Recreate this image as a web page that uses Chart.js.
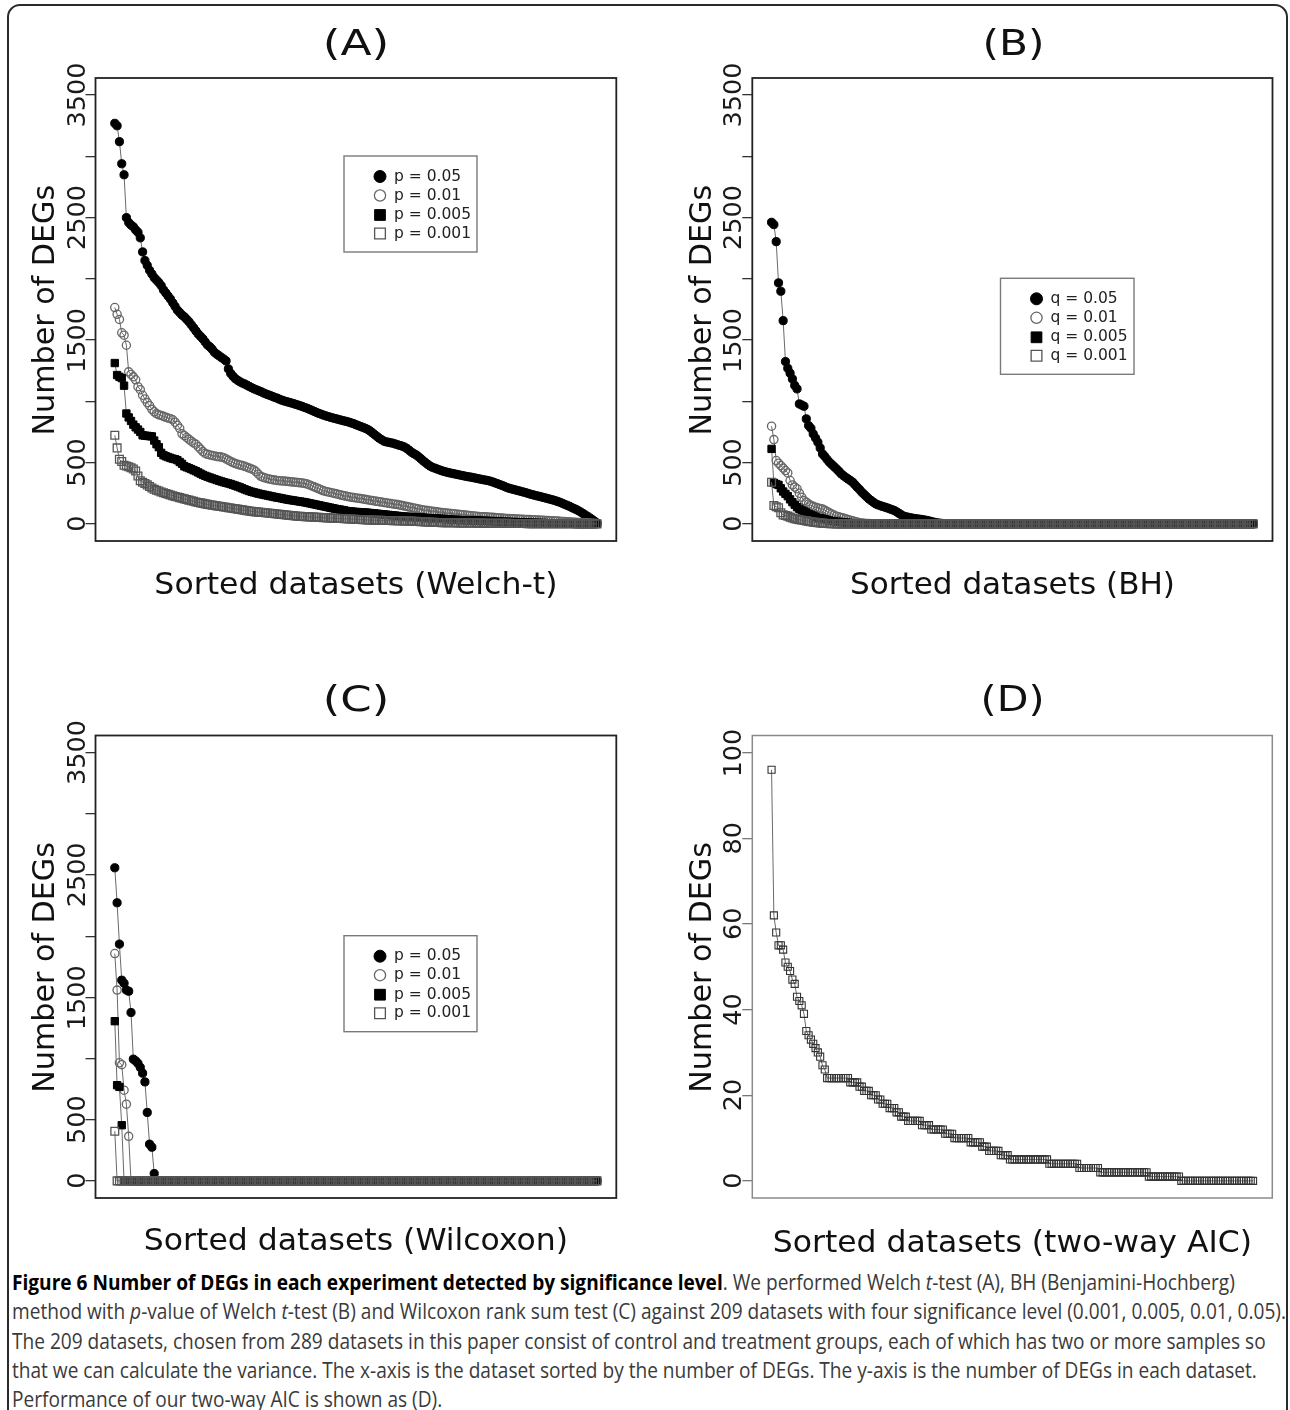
<!DOCTYPE html>
<html>
<head>
<meta charset="utf-8">
<script src="https://cdn.jsdelivr.net/npm/chart.js@4.4.1/dist/chart.umd.min.js"></script>
<style>
html,body{margin:0;padding:0;background:#fff;}
body{width:1290px;height:1410px;position:relative;overflow:hidden;}
.frame{position:absolute;left:7px;top:4px;width:1281px;height:1460px;border:2px solid #2a2a2a;border-radius:13px;box-sizing:border-box;}
canvas{position:absolute;display:block;}
#caption{position:absolute;left:12px;top:1268px;font-family:"Open Sans",sans-serif;font-size:21px;color:#3a3a3a;}
#caption .cl{height:29.3px;line-height:29.3px;white-space:nowrap;}
#caption .cl span{display:inline-block;transform-origin:0 50%;}
#caption b{color:#000;font-weight:700;}
</style>
</head>
<body>
<div class="frame"></div>
<canvas id="cA"></canvas>
<canvas id="cB"></canvas>
<canvas id="cC"></canvas>
<canvas id="cD"></canvas>
<div id="caption">
<div class="cl"><span><b>Figure 6 Number of DEGs in each experiment detected by significance level</b>. We performed Welch <i>t</i>-test (A), BH (Benjamini-Hochberg)</span></div>
<div class="cl"><span>method with <i>p</i>-value of Welch <i>t</i>-test (B) and Wilcoxon rank sum test (C) against 209 datasets with four significance level (0.001, 0.005, 0.01, 0.05).</span></div>
<div class="cl"><span>The 209 datasets, chosen from 289 datasets in this paper consist of control and treatment groups, each of which has two or more samples so</span></div>
<div class="cl"><span>that we can calculate the variance. The x-axis is the dataset sorted by the number of DEGs. The y-axis is the number of DEGs in each dataset.</span></div>
<div class="cl"><span>Performance of our two-way AIC is shown as (D).</span></div>
</div>
<script>
// ---------------- DATA ----------------
const N_DATASETS = 209;
const datasetRank = Array.from({length: N_DATASETS}, (_, k) => k + 1);

const yTicksDEG = [0, 500, 1000, 1500, 2000, 2500, 3000, 3500];
const yTickLabelsDEG = ['0', '500', '', '1500', '', '2500', '', '3500'];
const yTicksAIC = [0, 20, 40, 60, 80, 100];
const yTickLabelsAIC = ['0', '20', '40', '60', '80', '100'];

const legendP = ['p = 0.05', 'p = 0.01', 'p = 0.005', 'p = 0.001'];
const legendQ = ['q = 0.05', 'q = 0.01', 'q = 0.005', 'q = 0.001'];
const panelTitles = ['(A)', '(B)', '(C)', '(D)'];
const xTitles = ['Sorted datasets (Welch-t)', 'Sorted datasets (BH)', 'Sorted datasets (Wilcoxon)', 'Sorted datasets (two-way AIC)'];
const yTitle = 'Number of DEGs';

// (A) Welch t-test
const welchP05 = [
3270,3250,3120,2940,2850,2500,2460,2440,2425,2400,
2380,2335,2220,2150,2110,2070,2040,2010,1990,1970,
1945,1910,1885,1860,1835,1805,1775,1745,1725,1705,
1690,1670,1650,1625,1600,1575,1550,1530,1510,1485,
1460,1445,1425,1400,1385,1372,1358,1345,1330,1265,
1228,1205,1185,1172,1160,1150,1142,1132,1122,1112,
1103,1095,1087,1080,1070,1062,1055,1048,1040,1033,
1026,1018,1010,1004,998,993,988,982,976,970,
964,957,950,943,935,927,918,910,902,895,
888,882,876,870,865,860,855,850,845,840,
836,830,824,818,810,802,795,788,780,772,
760,745,730,715,700,688,676,670,666,662,
658,652,646,640,634,627,615,600,585,573,
563,548,532,515,500,485,472,462,455,448,
441,434,428,423,418,414,410,406,402,398,
394,390,386,383,380,376,372,368,364,360,
357,353,348,342,335,328,321,314,306,298,
291,286,281,276,271,266,261,256,250,244,
239,234,229,225,220,215,210,205,200,195,
189,183,176,168,160,152,144,135,126,117,
107,96,84,72,60,47,34,20,6];
const welchP01 = [
1766,1711,1669,1560,1540,1458,1241,1220,1200,1176,
1120,1095,1050,1020,990,965,935,915,900,890,
885,878,870,864,859,850,830,805,780,735,
720,705,690,675,660,650,630,610,590,575,
568,562,558,554,550,547,545,540,530,520,
510,500,492,486,480,476,470,463,455,448,
440,425,405,388,380,374,369,365,361,357,
354,352,350,349,347,345,343,341,339,337,
335,333,330,325,318,310,302,294,286,278,
270,265,260,256,252,247,243,238,233,229,
225,221,218,215,212,209,206,203,200,196,
193,190,187,184,181,178,175,172,169,166,
163,160,157,153,149,145,141,137,133,129,
126,122,118,114,111,108,105,103,100,98,
95,93,90,88,86,84,82,80,78,76,
74,72,70,68,66,64,63,61,59,58,
57,56,54,53,51,50,48,47,45,44,
43,42,41,40,39,38,37,36,36,35,
34,33,32,31,30,29,28,27,26,25,
24,23,21,20,19,18,17,16,14,13,
12,11,10,9,8,6,5,4,3];
const welchP005 = [
1313,1215,1200,1190,1128,901,869,840,810,788,
770,750,723,720,718,716,714,680,650,626,
580,561,552,545,538,532,528,520,505,490,
470,462,455,447,438,430,420,410,400,392,
385,378,371,365,358,352,346,340,335,330,
325,318,312,305,298,290,282,275,268,262,
257,252,247,243,239,235,231,227,223,219,
215,212,208,204,200,197,194,191,188,185,
182,179,176,172,168,164,160,156,152,148,
144,140,136,132,128,124,120,117,113,110,
105,103,101,99,97,96,94,93,92,91,
89,87,85,83,81,79,77,75,73,71,
69,67,65,63,61,59,58,57,56,55,
53,52,51,50,48,47,46,45,44,43,
42,41,40,38,36,35,34,33,32,31,
30,30,29,29,28,28,27,26,25,25,
24,24,23,22,21,20,19,19,18,17,
16,15,15,14,13,12,12,11,10,10,
9,9,8,8,7,7,6,6,5,5,
5,4,4,4,3,3,3,3,2,2,
2,2,2,1,1,1,1,0,0];
const welchP001 = [
723,620,528,509,478,472,466,458,448,431,
390,352,340,330,318,305,292,283,275,268,
260,254,248,242,236,230,224,219,214,209,
204,199,194,189,184,179,175,171,167,163,
159,156,153,150,147,144,141,138,135,132,
129,126,123,120,117,114,111,108,105,102,
100,98,96,94,92,90,88,86,84,82,
80,78,76,74,72,70,68,66,64,62,
61,60,59,58,57,56,55,54,53,52,
51,50,49,48,47,46,45,44,43,42,
41,40,39,38,37,36,35,34,33,32,
31,31,30,30,29,29,28,28,27,27,
26,26,25,25,24,24,23,23,22,21,
20,19,18,17,16,15,14,13,12,11,
11,10,10,10,10,9,9,9,8,8,
8,8,7,7,7,7,6,6,6,6,
5,5,5,5,5,4,4,4,4,4,
4,3,3,3,3,3,3,3,2,2,
2,2,2,2,2,2,2,1,1,1,
1,1,1,1,1,1,1,1,1,0,
0,0,0,0,0,0,0,0,0];

// (B) Benjamini-Hochberg
const bhQ05 = [
2462,2443,2304,1967,1899,1659,1325,1270,1230,1183,
1130,1102,979,970,960,857,802,780,734,700,
666,620,571,550,525,503,485,467,449,430,
410,394,380,367,354,340,320,299,280,258,
240,222,204,190,176,163,155,148,142,136,
130,123,116,109,98,86,74,63,58,54,
50,46,43,40,38,35,32,28,24,19,
14,10,7,5,3,2,1,1,0,0,
0,0,0,0,0,0,0,0,0,0,
0,0,0,0,0,0,0,0,0,0,
0,0,0,0,0,0,0,0,0,0,
0,0,0,0,0,0,0,0,0,0,
0,0,0,0,0,0,0,0,0,0,
0,0,0,0,0,0,0,0,0,0,
0,0,0,0,0,0,0,0,0,0,
0,0,0,0,0,0,0,0,0,0,
0,0,0,0,0,0,0,0,0,0,
0,0,0,0,0,0,0,0,0,0,
0,0,0,0,0,0,0,0,0,0,
0,0,0,0,0,0,0,0,0,0,
0,0,0,0,0,0,0,0,0];
const bhQ01 = [
797,688,517,495,476,455,435,416,354,318,
300,286,250,218,190,177,163,150,143,136,
130,126,122,112,101,90,80,72,63,58,
52,47,41,36,30,25,19,15,10,7,
5,3,2,1,1,0,0,0,0,0,
0,0,0,0,0,0,0,0,0,0,
0,0,0,0,0,0,0,0,0,0,
0,0,0,0,0,0,0,0,0,0,
0,0,0,0,0,0,0,0,0,0,
0,0,0,0,0,0,0,0,0,0,
0,0,0,0,0,0,0,0,0,0,
0,0,0,0,0,0,0,0,0,0,
0,0,0,0,0,0,0,0,0,0,
0,0,0,0,0,0,0,0,0,0,
0,0,0,0,0,0,0,0,0,0,
0,0,0,0,0,0,0,0,0,0,
0,0,0,0,0,0,0,0,0,0,
0,0,0,0,0,0,0,0,0,0,
0,0,0,0,0,0,0,0,0,0,
0,0,0,0,0,0,0,0,0,0,
0,0,0,0,0,0,0,0,0];
const bhQ005 = [
612,335,325,318,290,264,245,226,200,177,
156,136,122,110,101,92,80,73,66,58,
50,46,42,38,33,27,24,21,18,16,
14,13,11,9,7,5,4,3,2,2,
1,1,1,0,0,0,0,0,0,0,
0,0,0,0,0,0,0,0,0,0,
0,0,0,0,0,0,0,0,0,0,
0,0,0,0,0,0,0,0,0,0,
0,0,0,0,0,0,0,0,0,0,
0,0,0,0,0,0,0,0,0,0,
0,0,0,0,0,0,0,0,0,0,
0,0,0,0,0,0,0,0,0,0,
0,0,0,0,0,0,0,0,0,0,
0,0,0,0,0,0,0,0,0,0,
0,0,0,0,0,0,0,0,0,0,
0,0,0,0,0,0,0,0,0,0,
0,0,0,0,0,0,0,0,0,0,
0,0,0,0,0,0,0,0,0,0,
0,0,0,0,0,0,0,0,0,0,
0,0,0,0,0,0,0,0,0,0,
0,0,0,0,0,0,0,0,0];
const bhQ001 = [
340,150,140,131,90,73,68,63,55,48,
41,38,34,31,27,24,20,17,14,12,
10,8,6,4,3,2,1,1,0,0,
0,0,0,0,0,0,0,0,0,0,
0,0,0,0,0,0,0,0,0,0,
0,0,0,0,0,0,0,0,0,0,
0,0,0,0,0,0,0,0,0,0,
0,0,0,0,0,0,0,0,0,0,
0,0,0,0,0,0,0,0,0,0,
0,0,0,0,0,0,0,0,0,0,
0,0,0,0,0,0,0,0,0,0,
0,0,0,0,0,0,0,0,0,0,
0,0,0,0,0,0,0,0,0,0,
0,0,0,0,0,0,0,0,0,0,
0,0,0,0,0,0,0,0,0,0,
0,0,0,0,0,0,0,0,0,0,
0,0,0,0,0,0,0,0,0,0,
0,0,0,0,0,0,0,0,0,0,
0,0,0,0,0,0,0,0,0,0,
0,0,0,0,0,0,0,0,0,0,
0,0,0,0,0,0,0,0,0];

// (C) Wilcoxon rank sum test
const wilcoxP05 = [
2559,2273,1935,1640,1615,1560,1550,1376,995,980,
960,927,880,809,559,300,275,60,0,0,
0,0,0,0,0,0,0,0,0,0,
0,0,0,0,0,0,0,0,0,0,
0,0,0,0,0,0,0,0,0,0,
0,0,0,0,0,0,0,0,0,0,
0,0,0,0,0,0,0,0,0,0,
0,0,0,0,0,0,0,0,0,0,
0,0,0,0,0,0,0,0,0,0,
0,0,0,0,0,0,0,0,0,0,
0,0,0,0,0,0,0,0,0,0,
0,0,0,0,0,0,0,0,0,0,
0,0,0,0,0,0,0,0,0,0,
0,0,0,0,0,0,0,0,0,0,
0,0,0,0,0,0,0,0,0,0,
0,0,0,0,0,0,0,0,0,0,
0,0,0,0,0,0,0,0,0,0,
0,0,0,0,0,0,0,0,0,0,
0,0,0,0,0,0,0,0,0,0,
0,0,0,0,0,0,0,0,0,0,
0,0,0,0,0,0,0,0,0];
const wilcoxP01 = [
1858,1559,965,950,741,627,364,0,0,0,
0,0,0,0,0,0,0,0,0,0,
0,0,0,0,0,0,0,0,0,0,
0,0,0,0,0,0,0,0,0,0,
0,0,0,0,0,0,0,0,0,0,
0,0,0,0,0,0,0,0,0,0,
0,0,0,0,0,0,0,0,0,0,
0,0,0,0,0,0,0,0,0,0,
0,0,0,0,0,0,0,0,0,0,
0,0,0,0,0,0,0,0,0,0,
0,0,0,0,0,0,0,0,0,0,
0,0,0,0,0,0,0,0,0,0,
0,0,0,0,0,0,0,0,0,0,
0,0,0,0,0,0,0,0,0,0,
0,0,0,0,0,0,0,0,0,0,
0,0,0,0,0,0,0,0,0,0,
0,0,0,0,0,0,0,0,0,0,
0,0,0,0,0,0,0,0,0,0,
0,0,0,0,0,0,0,0,0,0,
0,0,0,0,0,0,0,0,0,0,
0,0,0,0,0,0,0,0,0];
const wilcoxP005 = [
1305,782,768,455,0,0,0,0,0,0,
0,0,0,0,0,0,0,0,0,0,
0,0,0,0,0,0,0,0,0,0,
0,0,0,0,0,0,0,0,0,0,
0,0,0,0,0,0,0,0,0,0,
0,0,0,0,0,0,0,0,0,0,
0,0,0,0,0,0,0,0,0,0,
0,0,0,0,0,0,0,0,0,0,
0,0,0,0,0,0,0,0,0,0,
0,0,0,0,0,0,0,0,0,0,
0,0,0,0,0,0,0,0,0,0,
0,0,0,0,0,0,0,0,0,0,
0,0,0,0,0,0,0,0,0,0,
0,0,0,0,0,0,0,0,0,0,
0,0,0,0,0,0,0,0,0,0,
0,0,0,0,0,0,0,0,0,0,
0,0,0,0,0,0,0,0,0,0,
0,0,0,0,0,0,0,0,0,0,
0,0,0,0,0,0,0,0,0,0,
0,0,0,0,0,0,0,0,0,0,
0,0,0,0,0,0,0,0,0];
const wilcoxP001 = [
406,0,0,0,0,0,0,0,0,0,
0,0,0,0,0,0,0,0,0,0,
0,0,0,0,0,0,0,0,0,0,
0,0,0,0,0,0,0,0,0,0,
0,0,0,0,0,0,0,0,0,0,
0,0,0,0,0,0,0,0,0,0,
0,0,0,0,0,0,0,0,0,0,
0,0,0,0,0,0,0,0,0,0,
0,0,0,0,0,0,0,0,0,0,
0,0,0,0,0,0,0,0,0,0,
0,0,0,0,0,0,0,0,0,0,
0,0,0,0,0,0,0,0,0,0,
0,0,0,0,0,0,0,0,0,0,
0,0,0,0,0,0,0,0,0,0,
0,0,0,0,0,0,0,0,0,0,
0,0,0,0,0,0,0,0,0,0,
0,0,0,0,0,0,0,0,0,0,
0,0,0,0,0,0,0,0,0,0,
0,0,0,0,0,0,0,0,0,0,
0,0,0,0,0,0,0,0,0,0,
0,0,0,0,0,0,0,0,0];

// (D) two-way AIC
const aicTwoWay = [
96,62,58,55,55,54,51,50,49,47,
46,43,42,41,39,35,34,33,32,31,
30,29,27,26,24,24,24,24,24,24,
24,24,24,24,23,23,23,23,22,22,
21,21,21,20,20,20,19,19,18,18,
18,17,17,17,16,16,15,15,15,14,
14,14,14,14,14,13,13,13,13,12,
12,12,12,12,12,11,11,11,11,10,
10,10,10,10,10,10,9,9,9,9,
9,8,8,8,7,7,7,7,7,6,
6,6,6,5,5,5,5,5,5,5,
5,5,5,5,5,5,5,5,5,5,
4,4,4,4,4,4,4,4,4,4,
4,4,4,3,3,3,3,3,3,3,
3,3,2,2,2,2,2,2,2,2,
2,2,2,2,2,2,2,2,2,2,
2,2,2,1,1,1,1,1,1,1,
1,1,1,1,1,1,1,0,0,0,
0,0,0,0,0,0,0,0,0,0,
0,0,0,0,0,0,0,0,0,0,
0,0,0,0,0,0,0,0,0];

// ---------------- STYLE / LAYOUT ----------------
const FONT = '"DejaVu Sans", Verdana, sans-serif';
const ST = {
  s05:  {ps: 'circle', r: 4.1, bg: '#000000', bc: '#000000', bw: 1,   lr: 6.0},
  s01:  {ps: 'circle', r: 4.1, bg: 'rgba(0,0,0,0)', bc: '#666666', bw: 1.3, lr: 5.6},
  s005: {ps: 'rect',   r: 5.2, bg: '#000000', bc: '#000000', bw: 1,   lr: 7.6},
  s001: {ps: 'rect',   r: 5.5, bg: 'rgba(0,0,0,0)', bc: '#555555', bw: 1.3, lr: 7.6},
  aic:  {ps: 'rect',   r: 5.0, bg: 'rgba(0,0,0,0)', bc: '#333333', bw: 1.1, lr: 7.0}
};
function rExpand(lo, hi) { const d = (hi - lo) * 0.04; return [lo - d, hi + d]; }
const xLim = rExpand(1, N_DATASETS);
const yLimDEG = rExpand(0, 3500);
const yLimAIC = rExpand(0, 100);

function drawInk(ctx, text, cx, cy, size, targetW, rot, color) {
  ctx.save();
  ctx.font = size + 'px ' + FONT;
  ctx.textAlign = 'left';
  ctx.textBaseline = 'alphabetic';
  const m = ctx.measureText(text);
  const inkW = m.actualBoundingBoxLeft + m.actualBoundingBoxRight;
  const sx = targetW ? targetW / inkW : 1;
  ctx.translate(cx, cy);
  if (rot) ctx.rotate(rot);
  ctx.scale(sx, 1);
  ctx.fillStyle = color || '#111';
  ctx.fillText(text, -(m.actualBoundingBoxRight - m.actualBoundingBoxLeft) / 2,
               (m.actualBoundingBoxAscent - m.actualBoundingBoxDescent) / 2);
  ctx.restore();
}
function drawMarker(ctx, st, x, y, r) {
  ctx.save();
  ctx.lineWidth = st.bw; ctx.strokeStyle = st.bc; ctx.fillStyle = st.bg;
  ctx.beginPath();
  if (st.ps === 'circle') ctx.arc(x, y, r, 0, Math.PI * 2);
  else { const h = r * Math.SQRT1_2; ctx.rect(x - h, y - h, 2 * h, 2 * h); }
  ctx.fill(); ctx.stroke();
  ctx.restore();
}

function makePanel(cfg) {
  const cv = document.getElementById(cfg.id);
  const R = cfg.rect, B = cfg.box;
  cv.width = R.w; cv.height = R.h;
  cv.style.left = R.x + 'px'; cv.style.top = R.y + 'px';
  cv.style.width = R.w + 'px'; cv.style.height = R.h + 'px';
  const yAxisW = 10;
  const pad = {left: B.l - R.x - yAxisW, right: R.x + R.w - B.r, top: B.t - R.y, bottom: R.y + R.h - B.b};
  const datasets = cfg.series.map((s, k) => ({
    label: s.label,
    data: s.values.map((v, i) => ({x: datasetRank[i], y: v})),
    borderColor: '#6a6a6a', borderWidth: 1, tension: 0, fill: false,
    pointStyle: s.st.ps, pointRadius: s.st.r, pointHoverRadius: s.st.r,
    pointBackgroundColor: s.st.bg, pointBorderColor: s.st.bc, pointBorderWidth: s.st.bw,
    order: cfg.series.length - 1 - k, clip: false
  }));
  const decor = {
    id: 'decor_' + cfg.id,
    afterDraw(chart) {
      const ctx = chart.ctx, ca = chart.chartArea, ys = chart.scales.y;
      const ox = R.x, oy = R.y;
      ctx.save();
      ctx.strokeStyle = cfg.boxColor; ctx.lineWidth = cfg.boxWidth;
      ctx.strokeRect(ca.left, ca.top, ca.right - ca.left, ca.bottom - ca.top);
      ctx.restore();
      cfg.yTicks.forEach((v, i) => {
        const lab = cfg.yLabels[i];
        if (!lab) return;
        drawInk(ctx, lab, ca.left - 20, ys.getPixelForValue(v), 25.5, 0, -Math.PI / 2, '#1a1a1a');
      });
      const t = cfg.text;
      drawInk(ctx, t.title, t.titleX - ox, t.titleY - oy, 36, t.titleW, 0, '#111');
      drawInk(ctx, yTitle, ca.left - 52.7, (ca.top + ca.bottom) / 2, 30, 248, -Math.PI / 2, '#111');
      drawInk(ctx, t.xTitle, (ca.left + ca.right) / 2, t.xTitleY - oy, 31, t.xTitleW, 0, '#111');
      if (cfg.legend) {
        const L = cfg.legend;
        const lx = L.x - ox, ly = L.y - oy;
        ctx.save();
        ctx.fillStyle = '#fff'; ctx.fillRect(lx, ly, L.w, L.h);
        ctx.strokeStyle = '#7a7a7a'; ctx.lineWidth = 1.4;
        ctx.strokeRect(lx, ly, L.w, L.h);
        ctx.restore();
        const offs = [20.5, 39.5, 59, 77.5];
        cfg.series.forEach((s, k) => {
          const yy = ly + offs[k];
          drawMarker(ctx, s.st, lx + 36, yy, s.st.lr);
          ctx.save();
          ctx.font = '15.5px ' + FONT; ctx.fillStyle = '#222';
          ctx.textAlign = 'left'; ctx.textBaseline = 'middle';
          ctx.fillText(L.labels[k], lx + 50, yy);
          ctx.restore();
        });
      }
    }
  };
  return new Chart(cv, {
    type: 'line',
    data: {datasets},
    options: {
      responsive: false, animation: false, devicePixelRatio: 1, events: [],
      layout: {padding: pad},
      plugins: {legend: {display: false}, tooltip: {enabled: false}, title: {display: false}},
      scales: {
        x: {type: 'linear', display: false, min: xLim[0], max: xLim[1]},
        y: {
          type: 'linear', position: 'left', min: cfg.yLim[0], max: cfg.yLim[1],
          afterBuildTicks: (sc) => { sc.ticks = cfg.yTicks.map(v => ({value: v})); },
          afterFit: (sc) => { sc.width = yAxisW; },
          ticks: {display: false},
          grid: {display: true, drawOnChartArea: false, drawTicks: true, tickLength: 10,
                 color: cfg.tickColor, tickColor: cfg.tickColor, lineWidth: 1.3},
          border: {display: false}
        }
      }
    },
    plugins: [decor]
  });
}

const panels = [
  {id: 'cA', rect: {x: 0, y: 0, w: 645, h: 640}, box: {l: 95.5, r: 616.3, t: 78, b: 541},
   series: [{label: legendP[0], values: welchP05, st: ST.s05}, {label: legendP[1], values: welchP01, st: ST.s01},
            {label: legendP[2], values: welchP005, st: ST.s005}, {label: legendP[3], values: welchP001, st: ST.s001}],
   yLim: yLimDEG, yTicks: yTicksDEG, yLabels: yTickLabelsDEG,
   text: {title: panelTitles[0], titleX: 356, titleY: 44, titleW: 59, xTitle: xTitles[0], xTitleY: 584, xTitleW: 399},
   legend: {x: 344, y: 156, w: 133, h: 96, labels: legendP},
   boxColor: '#222', boxWidth: 1.8, tickColor: '#333'},
  {id: 'cB', rect: {x: 645, y: 0, w: 645, h: 640}, box: {l: 752.3, r: 1272.5, t: 78, b: 541},
   series: [{label: legendQ[0], values: bhQ05, st: ST.s05}, {label: legendQ[1], values: bhQ01, st: ST.s01},
            {label: legendQ[2], values: bhQ005, st: ST.s005}, {label: legendQ[3], values: bhQ001, st: ST.s001}],
   yLim: yLimDEG, yTicks: yTicksDEG, yLabels: yTickLabelsDEG,
   text: {title: panelTitles[1], titleX: 1013.5, titleY: 44, titleW: 55, xTitle: xTitles[1], xTitleY: 584, xTitleW: 321},
   legend: {x: 1000.5, y: 278.3, w: 133.5, h: 96, labels: legendQ},
   boxColor: '#222', boxWidth: 1.8, tickColor: '#333'},
  {id: 'cC', rect: {x: 0, y: 640, w: 645, h: 625}, box: {l: 95.5, r: 616.3, t: 735.5, b: 1198},
   series: [{label: legendP[0], values: wilcoxP05, st: ST.s05}, {label: legendP[1], values: wilcoxP01, st: ST.s01},
            {label: legendP[2], values: wilcoxP005, st: ST.s005}, {label: legendP[3], values: wilcoxP001, st: ST.s001}],
   yLim: yLimDEG, yTicks: yTicksDEG, yLabels: yTickLabelsDEG,
   text: {title: panelTitles[2], titleX: 356, titleY: 700, titleW: 59, xTitle: xTitles[2], xTitleY: 1240, xTitleW: 420},
   legend: {x: 344, y: 935.7, w: 133, h: 96, labels: legendP},
   boxColor: '#222', boxWidth: 1.8, tickColor: '#333'},
  {id: 'cD', rect: {x: 645, y: 640, w: 645, h: 625}, box: {l: 752.3, r: 1272.3, t: 735.5, b: 1198},
   series: [{label: 'two-way AIC', values: aicTwoWay, st: ST.aic}],
   yLim: yLimAIC, yTicks: yTicksAIC, yLabels: yTickLabelsAIC,
   text: {title: panelTitles[3], titleX: 1012.5, titleY: 700, titleW: 57, xTitle: xTitles[3], xTitleY: 1243, xTitleW: 475},
   legend: null,
   boxColor: '#8a8a8a', boxWidth: 1.5, tickColor: '#777'}
];

panels.forEach(makePanel);

function fitCaption() {
  const spans = document.querySelectorAll('#caption .cl span');
  spans.forEach(s => { s.style.transform = 'none'; });
  const w = spans[1].getBoundingClientRect().width;
  const k = 1274 / w;
  spans.forEach(s => { s.style.transform = 'scaleX(' + k + ')'; });
}
fitCaption();
if (document.fonts && document.fonts.ready) document.fonts.ready.then(fitCaption);
</script>
</body>
</html>
